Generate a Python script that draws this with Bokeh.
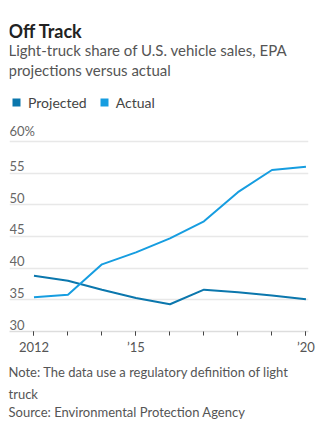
from bokeh.plotting import figure
from bokeh.models import Label, Legend, LegendItem, FixedTicker, ColumnDataSource, Title
from bokeh.core.properties import value
from bokeh.embed import file_html
from bokeh.resources import INLINE

years = [2012, 2013, 2014, 2015, 2016, 2017, 2018, 2019, 2020]
projected = [38.8, 38.0, 36.6, 35.3, 34.3, 36.6, 36.2, 35.7, 35.1]
actual = [35.4, 35.8, 40.6, 42.5, 44.7, 47.4, 52.0, 55.5, 56.0]
y_ticks = [30, 35, 40, 45, 50, 55, 60]
y_tick_labels = ["30", "35", "40", "45", "50", "55", "60%"]
x_major = [2012, 2015, 2020]
x_major_labels = ["2012", "\u201915", "\u201920"]
series_names = ["Projected", "Actual"]

FONT = "Lato"
C_PROJ = "#0b77ad"
C_ACT = "#169de0"
NAN = float("nan")

x_start, x_end = 2011.28, 2020.075
y_start, y_end = 30, 82.26

p = figure(width=322, height=422, output_backend="svg", toolbar_location=None,
           x_range=(x_start, x_end), y_range=(y_start, y_end),
           min_border_left=9, min_border_right=14, min_border_top=0, min_border_bottom=91)
p.outline_line_color = None
p.background_fill_color = "white"
p.border_fill_color = "white"

# grid
p.xgrid.visible = False
p.yaxis.visible = False
p.ygrid.ticker = FixedTicker(ticks=y_ticks)
p.ygrid.grid_line_color = "#e8e8e8"
p.ygrid.grid_line_width = 1.5

# x axis
xa = p.xaxis[0]
xa.ticker = FixedTicker(ticks=x_major, minor_ticks=years)
xa.major_label_overrides = {k: v for k, v in zip(x_major, x_major_labels)}
xa.axis_line_color = "#dddddd"
xa.axis_line_width = 1.5
xa.major_tick_line_color = "#444444"
xa.minor_tick_line_color = "#444444"
xa.major_tick_in = 0
xa.major_tick_out = 4
xa.minor_tick_in = 0
xa.minor_tick_out = 4
xa.major_label_standoff = 3
xa.major_label_text_font = FONT
xa.major_label_text_font_size = "13px"
xa.major_label_text_color = "#555555"

# y tick labels inside plot
p.text(x=[x_start] * len(y_ticks), y=y_ticks, text=y_tick_labels,
       text_font=value(FONT), text_font_size="13px", text_color="#666666",
       text_align="left", text_baseline="bottom", y_offset=-2)

src = ColumnDataSource(dict(year=years, projected=projected, actual=actual))
p.line("year", "projected", source=src, line_color=C_PROJ, line_width=2)
p.line("year", "actual", source=src, line_color=C_ACT, line_width=2)

# legend swatches (invisible NaN quads, used only for the legend)
q1 = p.quad(left=[NAN], right=[NAN], top=[NAN], bottom=[NAN], fill_color=C_PROJ, line_color=None)
q2 = p.quad(left=[NAN], right=[NAN], top=[NAN], bottom=[NAN], fill_color=C_ACT, line_color=None)
legend = Legend(items=[LegendItem(label=series_names[0], renderers=[q1]),
                       LegendItem(label=series_names[1], renderers=[q2])],
                orientation="horizontal", location=(2, 219),
                glyph_width=10, glyph_height=10, label_standoff=7, spacing=12,
                padding=0, margin=0, border_line_color=None, background_fill_alpha=0,
                label_text_font=FONT, label_text_font_size="14px", label_text_color="#444444",
                label_height=20)
p.add_layout(legend, "center")

def lab(text, x, y, size, color, style="normal"):
    p.add_layout(Label(x=x, y=y, x_units="screen", y_units="screen", text=text,
                       text_font=FONT, text_font_size=size, text_color=color,
                       text_font_style=style, text_baseline="middle", text_align="left"))

lab("Off Track", -1, 301, "18px", "#222222", "bold")
lab("Light-truck share of U.S. vehicle sales, EPA", -1, 282, "15px", "#555555")
lab("projections versus actual", -1, 262, "15px", "#555555")

notes = ["Note: The data use a regulatory definition of light", "truck",
         "Source: Environmental Protection Agency"]
standoffs = [8, 1, -1]
for t, s in zip(notes, standoffs):
    p.add_layout(Title(text=t, align="left", offset=-1, text_font=FONT,
                       text_font_size="13px", text_font_style="normal",
                       text_color="#555555", standoff=s), "below")

open("out.html", "w").write(file_html(p, INLINE))
